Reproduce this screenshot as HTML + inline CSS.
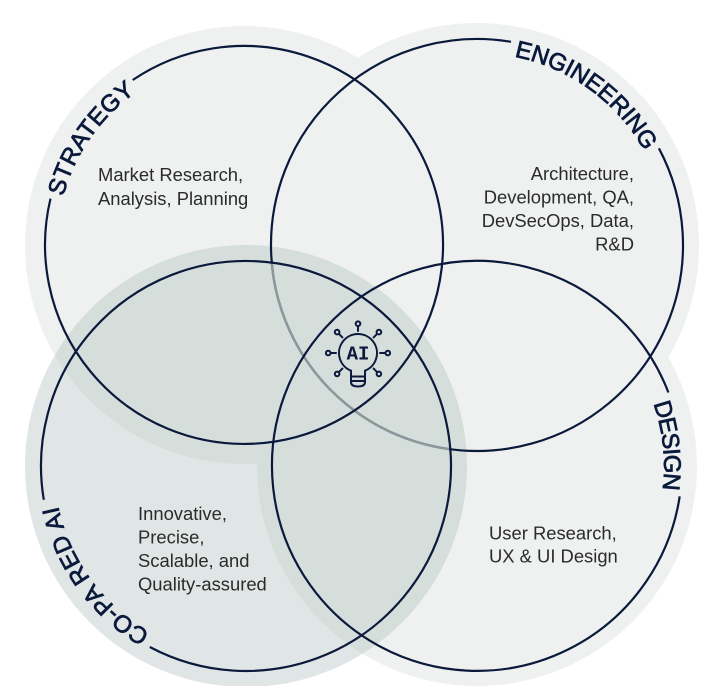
<!DOCTYPE html>
<html>
<head>
<meta charset="utf-8">
<style>
html,body{margin:0;padding:0;background:#fff;}
svg{display:block;}
.lbl{font-family:"Liberation Sans",Arial,sans-serif;font-size:24px;fill:#0b1a3c;stroke:#0b1a3c;stroke-width:0.75;}
.body{font-family:"Liberation Sans",Arial,sans-serif;font-size:18.4px;fill:#2b2b2b;}
</style>
</head>
<body>
<svg width="711" height="686" viewBox="0 0 711 686" xmlns="http://www.w3.org/2000/svg">
<defs>
  <clipPath id="cpC"><circle cx="246" cy="466" r="204"/></clipPath>
  <path id="tS" d="M57.6,229.5 A187,187 0 0 1 164.2,75.9"/>
  <path id="tE" d="M496.9,54.0 A192,192 0 0 1 652.3,166.8"/>
  <path id="tD" d="M628.1,355.8 A187,187 0 0 1 648.0,541.8"/>
  <path id="tC" d="M167.9,641.4 A192,192 0 0 1 55.1,486.1"/>
</defs>
<rect width="711" height="686" fill="#fff"/>

<!-- halos -->
<circle cx="244" cy="245" r="219" fill="#eef1f0"/>
<circle cx="477" cy="245" r="222" fill="#eef1f0"/>
<circle cx="477" cy="466" r="220" fill="#eef1f0"/>
<circle cx="246" cy="466" r="221" fill="rgb(180,195,193)" fill-opacity="0.41"/>

<!-- engineering stroke -->
<path d="M658.9,148.3 A206,206 0 1 1 511.0,41.8" fill="none" stroke="#0b1a3c" stroke-width="2.2"/>
<g clip-path="url(#cpC)">
  <circle cx="477" cy="245" r="206" fill="none" stroke="#8d979c" stroke-width="2.4"/>
</g>

<!-- strategy, design, co-pared strokes -->
<path d="M132.7,80.0 A199,199 0 1 1 50.5,198.6" fill="none" stroke="#0b1a3c" stroke-width="2.2"/>
<path d="M679.7,496.3 A205,205 0 1 1 668.4,392.5" fill="none" stroke="#0b1a3c" stroke-width="2.2"/>
<path d="M43.8,499.8 A205,205 0 1 1 149.8,647.0" fill="none" stroke="#0b1a3c" stroke-width="2.2"/>

<!-- circle labels -->
<text class="lbl"><textPath href="#tS" startOffset="50%" text-anchor="middle" textLength="128.9" lengthAdjust="spacing">STRATEGY</textPath></text>
<text class="lbl"><textPath href="#tE" startOffset="50%" text-anchor="middle" textLength="165.9" lengthAdjust="spacing">ENGINEERING</textPath></text>
<text class="lbl"><textPath href="#tD" startOffset="50%" text-anchor="middle" textLength="87.5" lengthAdjust="spacing">DESIGN</textPath></text>
<text class="lbl"><textPath href="#tC" startOffset="50%" text-anchor="middle" textLength="160.9" lengthAdjust="spacing">CO-PA RED AI</textPath></text>

<!-- body texts -->
<text class="body" x="98" y="181">Market Research,</text>
<text class="body" x="98" y="205">Analysis, Planning</text>

<text class="body" x="634" y="180" text-anchor="end">Architecture,</text>
<text class="body" x="634" y="203.5" text-anchor="end">Development, QA,</text>
<text class="body" x="634" y="227" text-anchor="end">DevSecOps, Data,</text>
<text class="body" x="634" y="250.5" text-anchor="end">R&amp;D</text>

<text class="body" x="138" y="520">Innovative,</text>
<text class="body" x="138" y="543.5">Precise,</text>
<text class="body" x="138" y="567">Scalable, and</text>
<text class="body" x="138" y="590.7">Quality-assured</text>

<text class="body" x="489" y="539.3">User Research,</text>
<text class="body" x="489" y="562.7">UX &amp; UI Design</text>

<!-- AI icon -->
<g fill="none" stroke="#0b1a3c" stroke-width="2" stroke-linecap="round">
  <path d="M351,370.7 A19,19 0 1 1 365,370.7"/>
  <path d="M351,370.7 L351,382 Q351,386.5 358,386.5 Q365,386.5 365,382 L365,370.7"/>
  <path d="M351,376.5 H365 M351,381 H365"/>
  <path d="M358,331 V327"/>
  <path d="M380,353 H384.5"/>
  <path d="M336,353 H331.5"/>
  <path d="M373.6,337.4 L376.8,334.2"/>
  <path d="M342.4,337.4 L339.2,334.2"/>
  <path d="M373.6,368.6 L376.8,371.8"/>
  <path d="M342.4,368.6 L339.2,371.8"/>
  <circle cx="358" cy="323.7" r="2.3"/>
  <circle cx="387.8" cy="353" r="2.3"/>
  <circle cx="328.2" cy="353" r="2.3"/>
  <circle cx="378.9" cy="332.1" r="2.3"/>
  <circle cx="337.1" cy="332.1" r="2.3"/>
  <circle cx="378.9" cy="373.9" r="2.3"/>
  <circle cx="337.1" cy="373.9" r="2.3"/>
</g>
<text x="358" y="359.5" text-anchor="middle" font-family="'Liberation Mono','DejaVu Sans Mono',monospace" font-weight="bold" font-size="19" fill="#0b1a3c">AI</text>
</svg>
</body>
</html>
